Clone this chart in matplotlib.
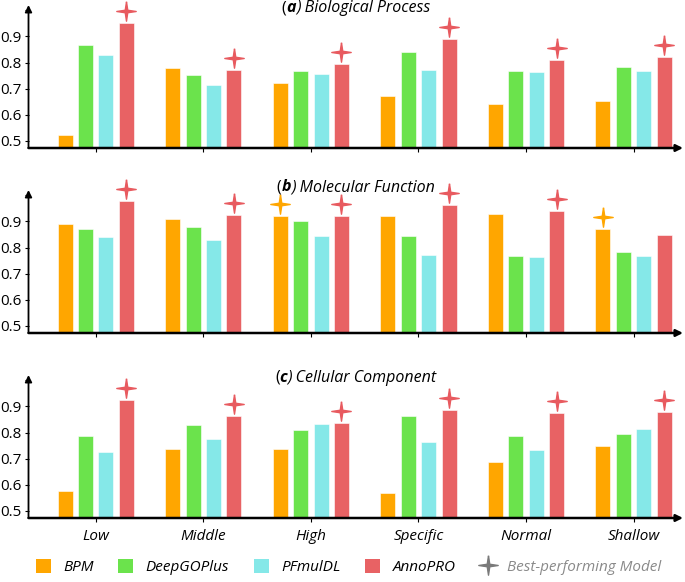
import numpy as np
import matplotlib.pyplot as plt
from matplotlib.path import Path
from matplotlib.patches import Patch
from matplotlib.lines import Line2D
from matplotlib.offsetbox import TextArea, HPacker, AnnotationBbox

plt.rcParams['font.family'] = ['Open Sans', 'DejaVu Sans']

groups = ['Low', 'Middle', 'High', 'Specific', 'Normal', 'Shallow']
models = ['BPM', 'DeepGOPlus', 'PFmulDL', 'AnnoPRO']
colors = ['#FFA600', '#6BE34C', '#85E8E8', '#E86264']

# (a) Biological Process
bp_bpm  = [0.522, 0.779, 0.721, 0.670, 0.641, 0.651]
bp_dgo  = [0.868, 0.754, 0.769, 0.842, 0.768, 0.783]
bp_pf   = [0.830, 0.713, 0.755, 0.773, 0.762, 0.768]
bp_anno = [0.951, 0.773, 0.796, 0.890, 0.811, 0.821]
# (b) Molecular Function
mf_bpm  = [0.891, 0.910, 0.920, 0.920, 0.930, 0.870]
mf_dgo  = [0.870, 0.878, 0.900, 0.843, 0.768, 0.784]
mf_pf   = [0.840, 0.828, 0.845, 0.773, 0.762, 0.768]
mf_anno = [0.979, 0.924, 0.920, 0.961, 0.938, 0.848]
# (c) Cellular Component
cc_bpm  = [0.577, 0.738, 0.738, 0.568, 0.688, 0.749]
cc_dgo  = [0.788, 0.828, 0.811, 0.864, 0.788, 0.795]
cc_pf   = [0.724, 0.775, 0.834, 0.762, 0.734, 0.812]
cc_anno = [0.924, 0.862, 0.835, 0.887, 0.876, 0.877]

# best-performing marks: (group index, model index)
bp_best = [(0, 3), (1, 3), (2, 3), (3, 3), (4, 3), (5, 3)]
mf_best = [(0, 3), (1, 3), (2, 0), (2, 3), (3, 3), (4, 3), (5, 0)]
cc_best = [(0, 3), (1, 3), (2, 3), (3, 3), (4, 3), (5, 3)]

panels = [
    ('a', 'Biological Process', [bp_bpm, bp_dgo, bp_pf, bp_anno], bp_best, 0.976),
    ('b', 'Molecular Function', [mf_bpm, mf_dgo, mf_pf, mf_anno], mf_best, 1.02),
    ('c', 'Cellular Component', [cc_bpm, cc_dgo, cc_pf, cc_anno], cc_best, 0.98),
]

star = Path([(0, 1), (0.13, 0.13), (1, 0), (0.13, -0.13), (0, -1),
             (-0.13, -0.13), (-1, 0), (-0.13, 0.13), (0, 1)])

fig = plt.figure(figsize=(6.85, 5.82), dpi=100)
bottoms = [1 - 148 / 582, 1 - 333 / 582, 1 - 518 / 582]
x = np.arange(len(groups))
w = 0.14
step = 0.19

for k, (tag, name, series, best, ty) in enumerate(panels):
    ax = fig.add_axes([28.5 / 685, bottoms[k], 654.5 / 685, 143 / 582])
    for i, vals in enumerate(series):
        ax.bar(x + (i - 1.5) * step, vals, w, color=colors[i],
               edgecolor='white', linewidth=0.4, zorder=2)
    for g, m in best:
        ax.plot(x[g] + (m - 1.5) * step, series[m][g] + 0.046, marker=star,
                color=colors[m] if m != 3 else '#E85A5F', markersize=14,
                linestyle='', zorder=3, clip_on=False)
    ax.set_xlim(-0.625, 5.46)
    ax.set_ylim(0.473, 1.02)
    for s in ax.spines.values():
        s.set_visible(False)
    ax.annotate('', xy=(1, 0), xytext=(0, 0), xycoords='axes fraction',
                arrowprops=dict(arrowstyle='-|>', color='black', lw=1.8,
                                mutation_scale=10, shrinkA=0, shrinkB=0))
    ax.annotate('', xy=(0, 1), xytext=(0, 0), xycoords='axes fraction',
                arrowprops=dict(arrowstyle='-|>', color='black', lw=1.3,
                                mutation_scale=10, shrinkA=0, shrinkB=0))
    ax.set_yticks([0.5, 0.6, 0.7, 0.8, 0.9, 1.0])
    ax.set_yticklabels(['0.5', '0.6', '0.7', '0.8', '0.9', ''])
    ax.tick_params(axis='y', length=3, width=0.8, pad=2, labelsize=11)
    ax.set_xticks(x)
    if k == 2:
        ax.set_xticklabels(groups, fontstyle='italic', fontsize=11)
    else:
        ax.set_xticklabels([])
    ax.tick_params(axis='x', length=3, width=0.8, pad=5)

    box = HPacker(children=[
        TextArea('(', textprops=dict(fontsize=11.5)),
        TextArea(tag, textprops=dict(fontsize=11.5, fontweight='bold', fontstyle='italic')),
        TextArea(') ' + name, textprops=dict(fontsize=11.5, fontstyle='italic')),
    ], pad=0, sep=0, align='baseline')
    ab = AnnotationBbox(box, (0.5, ty), xycoords='axes fraction', frameon=False,
                        box_alignment=(0.5, 0.5), annotation_clip=False)
    ax.add_artist(ab)

handles = [Patch(facecolor=c, edgecolor='none') for c in colors]
handles.append(Line2D([], [], marker=star, color='#7a7a7a', linestyle='', markersize=14))
leg = fig.legend(handles, models + ['Best-performing Model'], loc='center',
                 bbox_to_anchor=(0.509, 1 - 567 / 582), ncol=5, frameon=False,
                 prop=dict(style='italic', size=11), handlelength=1.0,
                 handleheight=1.1, columnspacing=1.6, handletextpad=0.8)
leg.get_texts()[4].set_color('#8a8a8a')

fig.savefig('out.png', dpi=100)
